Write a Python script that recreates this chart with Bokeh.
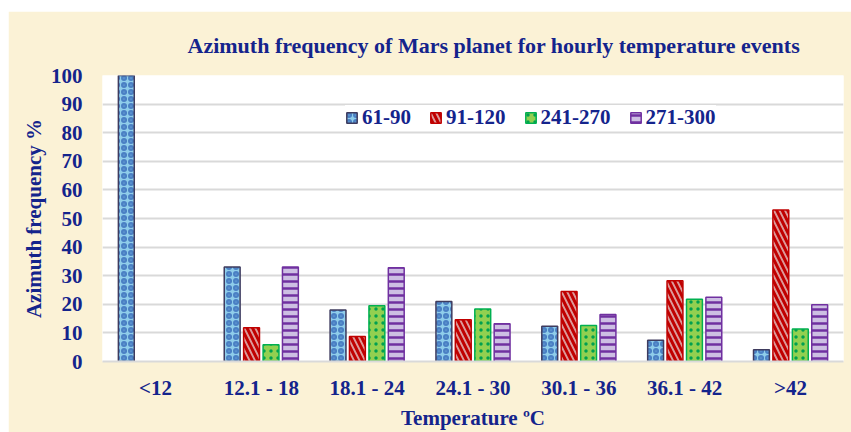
from bokeh.plotting import figure
from bokeh.models import ColumnDataSource, FactorRange, FixedTicker, Legend, LegendItem, Title
from bokeh.transform import dodge
from bokeh.embed import file_html
from bokeh.resources import INLINE
import math

categories = ["<12", "12.1 - 18", "18.1 - 24", "24.1 - 30", "30.1 - 36", "36.1 - 42", ">42"]
series_names = ["61-90", "91-120", "241-270", "271-300"]
az_61_90 = [100, 33, 18, 21, 12.3, 7.4, 4.1]
az_91_120 = [0, 11.8, 8.7, 14.6, 24.5, 28.2, 53]
az_241_270 = [0, 5.9, 19.5, 18.4, 12.6, 21.8, 11.4]
az_271_300 = [0, 33, 32.8, 13.2, 16.4, 22.5, 19.8]
y_ticks = [0, 10, 20, 30, 40, 50, 60, 70, 80, 90, 100]

TXT = "#14248c"
FONT = "Liberation Serif"
FS = "21px"

def nz(v):
    return [x if x > 0 else math.nan for x in v]

src = ColumnDataSource(dict(
    cat=categories,
    s1=nz(az_61_90), s2=nz(az_91_120), s3=nz(az_241_270), s4=nz(az_271_300),
))

p = figure(
    x_range=FactorRange(*categories), y_range=(0, 100),
    width=843, height=421, output_backend="svg", toolbar_location=None,
    min_border_left=94, min_border_right=8, min_border_top=64, min_border_bottom=70,
    title=None,
)
p.margin = (11, 0, 0, 8)
p.border_fill_color = "#fbf2d6"
p.background_fill_color = "white"
p.outline_line_color = None

title = Title(text="Azimuth frequency of Mars planet for hourly temperature events",
              align="left", offset=85, standoff=36,
              text_font=FONT, text_font_style="bold", text_font_size="22px", text_color=TXT)
p.add_layout(title, "above")

styles = [
    ("s1", -0.275, "#8fcdea", "#3e3b5e", "#4a80c4", "ring", 7, 2.5),
    ("s2", -0.092, "#dc9a9a", "#c00000", "#c00000", "left_diagonal_line", 11, 3),
    ("s3", 0.092, "#92d050", "#00b050", "#00a050", "dot", 7, 2.5),
    ("s4", 0.275, "#cdbfe3", "#7030a0", "#7030a0", "horizontal_line", 7, 2.5),
]
items = []
for (col, off, fill, line, hc, pat, hs, hw), name in zip(styles, series_names):
    r = p.vbar(x=dodge("cat", off, range=p.x_range), top=col, width=0.15, source=src,
               fill_color=fill, line_color=line, line_width=1.5,
               hatch_pattern=pat, hatch_color=hc, hatch_scale=hs, hatch_weight=hw)
    items.append(LegendItem(label=name, renderers=[r]))

legend = Legend(items=items, orientation="horizontal", location=(243, 231))
legend.label_text_font = FONT
legend.label_text_font_style = "bold"
legend.label_text_font_size = FS
legend.label_text_color = TXT
legend.glyph_width = 13
legend.glyph_height = 13
legend.spacing = 18
legend.label_standoff = 4
legend.padding = 4
legend.border_line_color = None
legend.background_fill_color = "white"
legend.background_fill_alpha = 1
p.add_layout(legend, "center")

p.yaxis.ticker = FixedTicker(ticks=y_ticks)
p.ygrid.grid_line_color = "#d9d9d9"
p.ygrid.grid_line_width = 2
p.xgrid.grid_line_color = None

for ax in (p.xaxis[0], p.yaxis[0]):
    ax.major_tick_line_color = None
    ax.minor_tick_line_color = None
    ax.major_label_text_font = FONT
    ax.major_label_text_font_style = "bold"
    ax.major_label_text_font_size = FS
    ax.major_label_text_color = TXT
    ax.axis_label_text_font = FONT
    ax.axis_label_text_font_style = "bold"
    ax.axis_label_text_font_size = FS
    ax.axis_label_text_color = TXT

p.yaxis.axis_line_color = None
p.yaxis.major_label_standoff = 14
p.yaxis.axis_label = "Azimuth frequency %"
p.yaxis.axis_label_standoff = 2

p.xaxis.axis_line_color = "#d9d9d9"
p.xaxis.axis_line_width = 2
p.xaxis.major_label_standoff = 8
p.xaxis.axis_label = "Temperature ºC"
p.xaxis.axis_label_standoff = 3

open("out.html", "w").write(file_html(p, INLINE))
